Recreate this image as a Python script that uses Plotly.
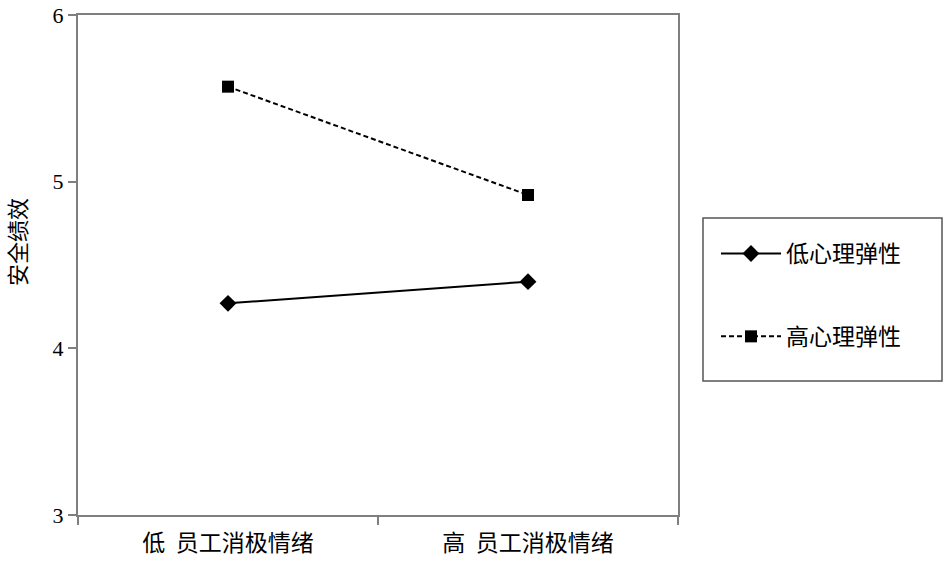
import plotly.graph_objects as go

categories = ["低  员工消极情绪", "高  员工消极情绪"]
low_resilience = [4.27, 4.40]
high_resilience = [5.57, 4.92]
series_names = ["低心理弹性", "高心理弹性"]
y_ticks = [3, 4, 5, 6]
y_title = "安全绩效"

CJK = "Noto Sans CJK SC, sans-serif"
AX = "#7f7f7f"

W, H = 944, 569
PL, PR, PT, PB = 78, 678, 15, 515   # plot area in screen pixels
pw, ph = PR - PL, PB - PT

def px(x):
    return (x - PL) / pw

def py(y):
    return (PB - y) / ph

fig = go.Figure()
fig.add_trace(go.Scatter(
    x=categories, y=low_resilience, name=series_names[0], mode="lines+markers",
    line=dict(color="black", width=2),
    marker=dict(symbol="diamond", size=13, color="black"),
    legendgroup="a",
))
fig.add_trace(go.Scatter(
    x=categories, y=high_resilience, name=series_names[1], mode="lines+markers",
    line=dict(color="black", width=2, dash="5px,3px"),
    marker=dict(symbol="square", size=12, color="black"),
    legendgroup="b",
))

fig.update_layout(
    width=W, height=H,
    margin=dict(l=PL, r=W - PR, t=PT, b=H - PB, autoexpand=False),
    paper_bgcolor="white", plot_bgcolor="white",
    font=dict(family=CJK, color="black", size=20),
    showlegend=True,
    legend=dict(
        x=px(716), y=py(232), xanchor="left", yanchor="top",
        borderwidth=0, bgcolor="rgba(0,0,0,0)",
        font=dict(size=23, family=CJK),
        tracegroupgap=50,
        itemwidth=60,
    ),
    shapes=[dict(
        type="rect", xref="paper", yref="paper",
        x0=px(703), x1=px(942), y0=py(381), y1=py(218),
        line=dict(color="#555555", width=1.5),
    )],
    annotations=[dict(
        text=y_title, textangle=-90, xref="paper", yref="paper",
        x=px(16), y=py(242), xanchor="center", yanchor="middle", showarrow=False,
        font=dict(size=22, family=CJK),
    )],
    xaxis=dict(
        type="category", range=[-0.5, 1.5], automargin=False,
        showline=True, linecolor=AX, linewidth=2, mirror=True,
        ticks="outside", tickson="boundaries", ticklen=8, tickcolor=AX, tickwidth=1.5,
        showgrid=False, tickfont=dict(size=23, family=CJK),
        ticklabelstandoff=6,
    ),
    yaxis=dict(
        range=[3, 6], tickvals=y_ticks, automargin=False,
        showline=True, linecolor=AX, linewidth=2, mirror=True,
        ticks="outside", ticklen=8, tickcolor=AX, tickwidth=1.5, showgrid=False, zeroline=False,
        tickfont=dict(size=22, family="Liberation Serif, serif"),
        ticklabeloverflow="allow",
    ),
)

fig.write_html(
    "out.html",
    config={"displayModeBar": False},
    post_script="document.body.style.margin='0';document.body.style.padding='0';",
)
